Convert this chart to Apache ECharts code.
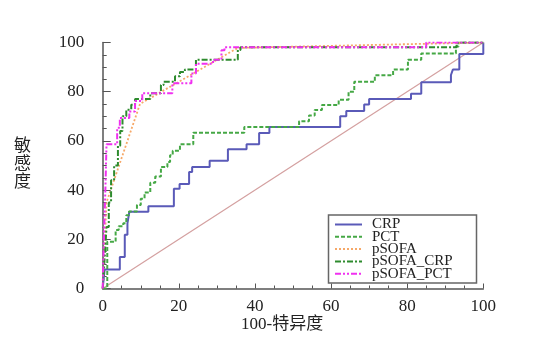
<!DOCTYPE html>
<html><head><meta charset="utf-8">
<script src="https://cdn.jsdelivr.net/npm/echarts@6/dist/echarts.min.js"></script>
<style>html,body{margin:0;padding:0;background:#fff}#c{width:538px;height:359px}</style>
</head><body><div id="c"></div>
<script>
var seriesNames = ['CRP', 'PCT', 'pSOFA', 'pSOFA_CRP', 'pSOFA_PCT'];
var xTicks = [0, 20, 40, 60, 80, 100];
var yTicks = [0, 20, 40, 60, 80, 100];
var refLine = [[0, 0], [100, 100]];
var crp = [[0,0],[0.5,7.7],[4.5,12.8],[5.8,21.8],[6.5,26.5],[7,31.2],[12,33.4],[18.7,40.5],[20.2,42.5],[22.7,47.4],[23.5,49.4],[28.1,51.9],[32.9,56.6],[37.8,58.6],[41.1,63.2],[43.8,65.6],[62.4,70],[64,72.2],[68.7,74.8],[70,77],[81,79.2],[83.7,83.8],[91.5,86.8],[92,89],[93.7,95.3],[98.8,95.3],[100,100]];
var pct = [[0,0],[1.2,19],[3.4,23.8],[4.2,25.3],[5.4,26.5],[6.2,29.8],[6.9,31.3],[9,33.9],[10,36.5],[11,39],[12.5,43],[13.8,45.5],[15.3,49.4],[17,51.4],[17.7,54.2],[18.4,56],[20.3,58.6],[23.8,63.3],[37.2,65.6],[51.6,68],[54.2,70.3],[55.7,72.6],[57.6,74.6],[62,76.7],[64.6,80],[66.1,84],[71.5,86.7],[76.3,89],[80.2,93],[83.7,95.5],[92.8,98.4],[93.5,100],[100,100]];
var psofa = [[0,0],[1,35],[9.8,75],[35.5,97.8],[100,100]];
var psofaCrp = [[0,0],[0.5,12],[1,25],[1.6,35],[2.2,44],[3,50],[4,58],[4.6,64],[5.2,70],[6.2,72.7],[7.5,74.7],[8.5,77],[12.5,79.4],[15.3,82.7],[16,84],[19,86.3],[20.3,88],[21.6,89],[24.5,93],[35.5,97],[36.2,98.1],[93,100],[100,100]];
var psofaPct = [[0,0],[0.3,20],[0.7,40],[1,58.6],[3.8,65.3],[4.5,69.3],[7,72],[8.5,76.2],[10.4,79.4],[18.3,83.4],[23.3,87.4],[24.5,91.4],[29,93],[31.2,96.8],[32,98.1],[85,100],[100,100]];

var chart = echarts.init(document.getElementById('c'), null, {renderer: 'canvas'});
var serif = '"Liberation Serif", "Noto Sans CJK SC", serif';
var axisCol = '#555';
function lineSeries(name, data, color, type, width, step) {
  return {
    name: name, type: 'line', data: data, symbol: 'none', step: step ? 'end' : false,
    lineStyle: {color: color, width: width, type: type}, itemStyle: {color: color},
    animation: false, z: 3
  };
}
chart.setOption({
  animation: false,
  grid: {left: 102.7, right: 54.7, top: 42.5, bottom: 70.5},
  xAxis: {
    type: 'value', min: 0, max: 100, interval: 20, offset: 5,
    axisLine: {show: true, lineStyle: {color: axisCol, width: 1.5}},
    axisTick: {show: true, inside: true, length: 5, lineStyle: {color: axisCol}},
    minorTick: {show: true, splitNumber: 4, length: 3, lineStyle: {color: axisCol}},
    splitLine: {show: false},
    axisLabel: {color: '#222', fontFamily: serif, fontSize: 17, margin: 5,
      formatter: function (v) { return xTicks.indexOf(v) >= 0 ? String(v) : ''; }}
  },
  yAxis: {
    type: 'value', min: 0, max: 100, interval: 20, offset: 10.5,
    axisLine: {show: true, lineStyle: {color: axisCol, width: 1.5}},
    axisTick: {show: true, inside: true, length: 8, lineStyle: {color: axisCol}},
    minorTick: {show: true, splitNumber: 4, length: 4, lineStyle: {color: axisCol}},
    splitLine: {show: false},
    axisLabel: {color: '#222', fontFamily: serif, fontSize: 17, margin: 8,
      formatter: function (v) { return yTicks.indexOf(v) >= 0 ? String(v) : ''; }}
  },
  legend: {
    data: seriesNames, orient: 'vertical', left: 334, top: 217,
    itemWidth: 27, itemHeight: 8, itemGap: -2.7, padding: 0,
    itemStyle: {opacity: 0},
    textStyle: {fontFamily: serif, fontSize: 15, color: '#222', padding: [0, 0, 0, 5]}
  },
  graphic: [
    {type: 'rect', shape: {x: 328.5, y: 215, width: 148, height: 68}, style: {fill: 'none', stroke: '#666', lineWidth: 1.5}, z: 10},
    {type: 'text', left: 14, top: 136, style: {text: '敏\n感\n度', font: '17px "Noto Sans CJK SC"', fill: '#222', lineHeight: 18}},
    {type: 'text', left: 241, top: 316, style: {text: '100-特异度', font: '17px "Liberation Serif", "Noto Sans CJK SC"', fill: '#222'}}
  ],
  series: [
    {name: 'ref', type: 'line', data: refLine, symbol: 'none', lineStyle: {color: '#d4a0a0', width: 1.2}, z: 2},
    lineSeries('CRP', crp, '#5a5ab8', 'solid', 2, true),
    lineSeries('PCT', pct, '#45a845', [4, 2], 2, true),
    lineSeries('pSOFA', psofa, '#f6a868', [2, 2], 1.8, false),
    lineSeries('pSOFA_CRP', psofaCrp, '#2e8b2e', [6, 2, 2, 2], 2, true),
    lineSeries('pSOFA_PCT', psofaPct, '#f030f0', [6, 2, 2, 2, 2, 2], 2, true)
  ]
});
</script></body></html>
